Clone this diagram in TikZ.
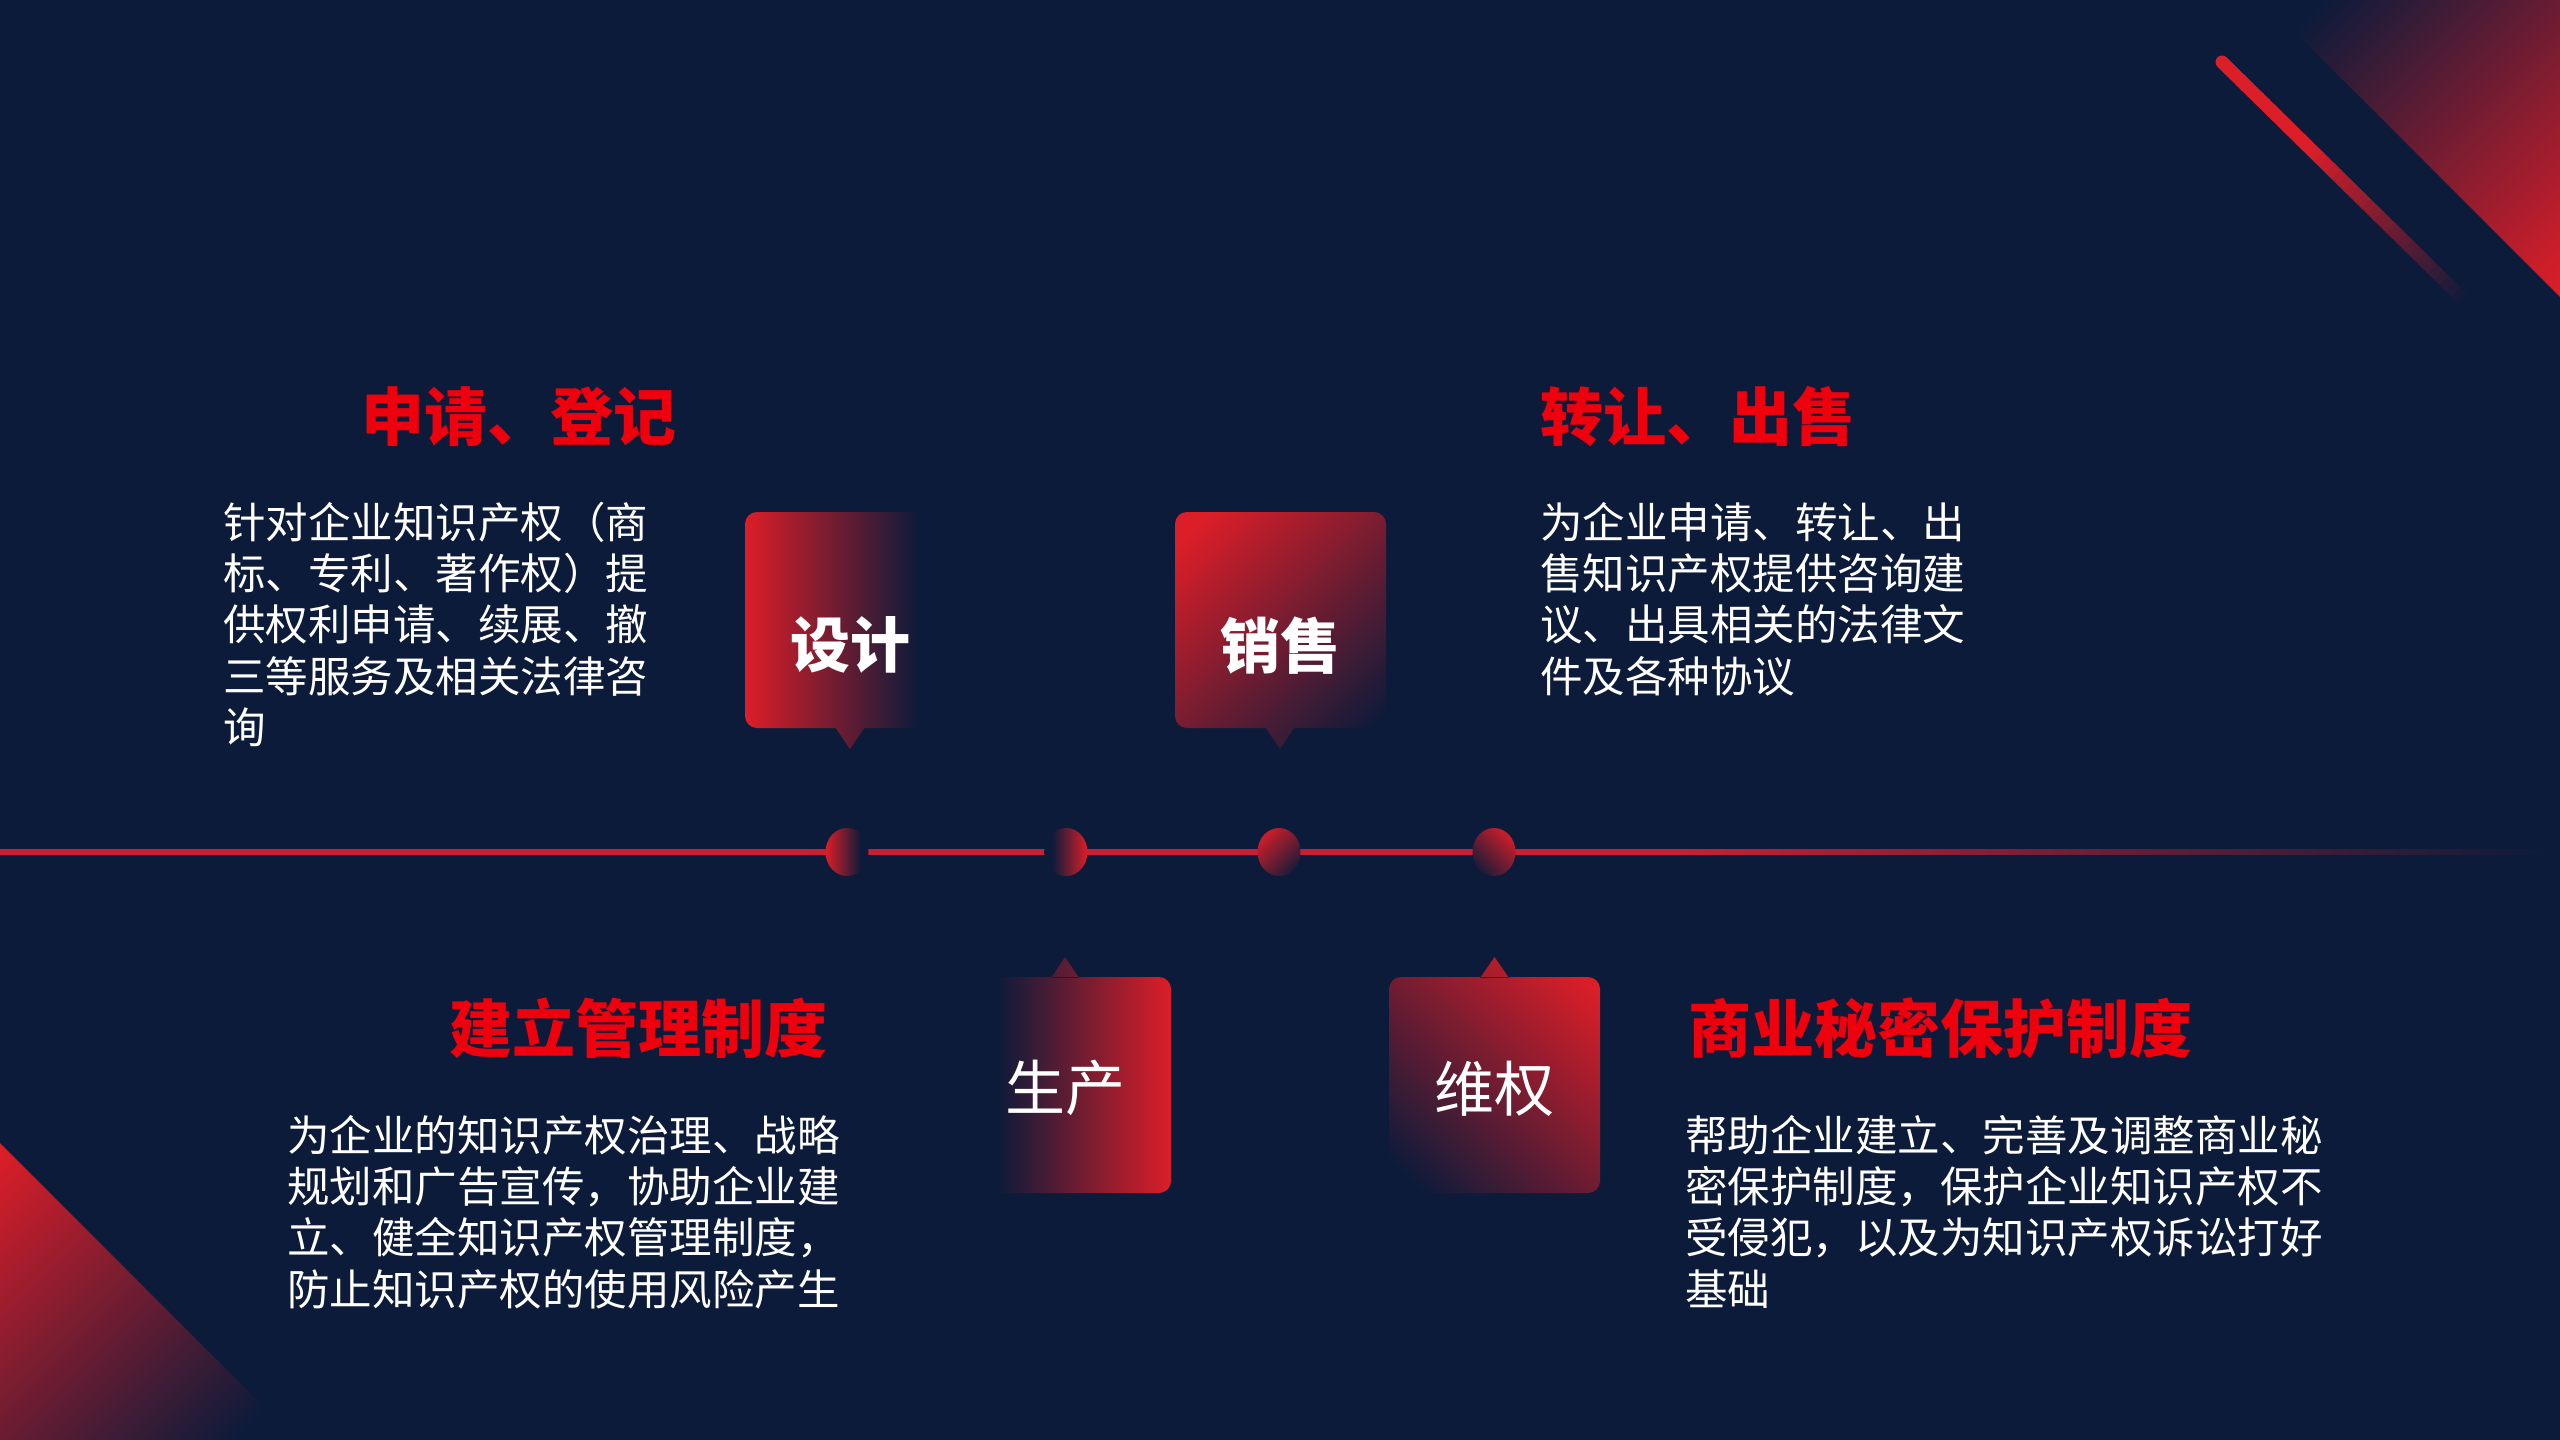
\documentclass[tikz,border=0pt]{standalone}
\usepackage{fontspec}
\setmainfont{Noto Sans CJK SC}
\usetikzlibrary{calc,shapes.geometric}
\definecolor{bg}{RGB}{13,27,58}
\definecolor{hot}{RGB}{220,30,40}
\definecolor{linered}{RGB}{200,32,50}
\definecolor{titlered}{RGB}{238,0,12}
\pgfdeclarehorizontalshading{fadeR}{100bp}{color(0bp)=(hot); color(25bp)=(hot); color(66bp)=(bg); color(100bp)=(bg)}
\pgfdeclarehorizontalshading{fadeD}{100bp}{color(0bp)=(hot); color(20bp)=(hot); color(80bp)=(bg); color(100bp)=(bg)}
\pgfdeclarehorizontalshading{triTR}{100bp}{color(0bp)=(bg); color(22bp)=(bg); color(85bp)=(hot); color(100bp)=(hot)}
\pgfdeclarehorizontalshading{triBL}{100bp}{color(0bp)=(hot); color(15bp)=(hot); color(78bp)=(bg); color(100bp)=(bg)}
\pgfdeclarehorizontalshading{lineF}{100bp}{color(0bp)=(linered); color(58bp)=(linered); color(75bp)=(bg); color(100bp)=(bg)}
\tikzset{
  title/.style={anchor=base west, text=titlered, font=\fontsize{63}{70}\selectfont\bfseries, inner sep=0pt},
  body/.style={anchor=base west, text=white, font=\fontsize{42.5}{50}\selectfont, inner sep=0pt},
  lbl/.style={anchor=base, text=white, font=\fontsize{60}{66}\selectfont, inner sep=0pt},
  lblb/.style={lbl, font=\fontsize{60}{66}\selectfont\bfseries},
  dotnode/.style={ellipse, minimum width=43pt, minimum height=48pt, inner sep=0pt, shade}
}
\begin{document}
\begin{tikzpicture}[x=1pt,y=-1pt]
\useasboundingbox (0,0) rectangle (2560,1440);
\fill[bg] (0,0) rectangle (2560,1440);
% corner decorations
\shade[shading=triTR, shading angle=-45] (2263,0) -- (2560,0) -- (2560,297) -- cycle;
\shade[shading=triBL, shading angle=-45] (0,1143) -- (297,1440) -- (0,1440) -- cycle;
\coordinate (sA) at (2222,62);
\coordinate (sB) at (2462,298);
\fill[hot] (sA) circle[radius=6.5];
\foreach \i in {0,...,39}{
  \pgfmathsetmacro\ta{\i/40}
  \pgfmathsetmacro\tb{min(1,(\i+1.2)/40)}
  \pgfmathtruncatemacro\pc{\i<14 ? 100 : 100*(1-(\i-14)/26)}
  \draw[line width=13pt, hot!\pc!bg] ($(sA)!\ta!(sB)$) -- ($(sA)!\tb!(sB)$);
}
% timeline
\shade[shading=lineF] (0,849.5) rectangle (2545,854.5);
\node[dotnode, shading=fadeR] (d1) at (847,852) {};
\node[dotnode, shading=fadeR, shading angle=180] (d2) at (1066,852) {};
\node[dotnode, shading=fadeD, shading angle=-45] (d3) at (1279,852) {};
\node[dotnode, shading=fadeD, shading angle=-135] (d4) at (1494,852) {};
% boxes
\shade[shading=fadeR, rounded corners=12pt] (745,512) rectangle (956,728) [sharp corners] (835,727) -- (850,749) -- (865,727) -- cycle;
\shade[shading=fadeD, shading angle=-45, rounded corners=12pt] (1175,512) rectangle (1386,728) [sharp corners] (1265,727) -- (1280,749) -- (1295,727) -- cycle;
\shade[shading=fadeR, shading angle=180, rounded corners=12pt] (960,977) rectangle (1171,1193) [sharp corners] (1051,978) -- (1065,957) -- (1079,978) -- cycle;
\shade[shading=fadeD, shading angle=-135, rounded corners=12pt] (1389,977) rectangle (1600,1193) [sharp corners] (1480,978) -- (1494.5,957) -- (1509,978) -- cycle;
\node[lblb] (l1) at (850,667) {设计};
\node[lblb] (l2) at (1280,668) {销售};
\node[lbl] (l3) at (1065,1110) {生产};
\node[lbl] (l4) at (1494,1111) {维权};
% titles
\node[title] (t1) at (361,440) {申请、登记};
\node[title] (t2) at (1540,440) {转让、出售};
\node[title] (t3) at (449,1052) {建立管理制度};
\node[title] (t4) at (1688,1052) {商业秘密保护制度};
% body texts
\node[body] (a1) at (223,538) {针对企业知识产权（商};
\node[body] (a2) at (223,589) {标、专利、著作权）提};
\node[body] (a3) at (223,640) {供权利申请、续展、撤};
\node[body] (a4) at (223,692) {三等服务及相关法律咨};
\node[body] (a5) at (223,743) {询};
\node[body] (b1) at (1540,538) {为企业申请、转让、出};
\node[body] (b2) at (1540,589) {售知识产权提供咨询建};
\node[body] (b3) at (1540,640) {议、出具相关的法律文};
\node[body] (b4) at (1540,692) {件及各种协议};
\node[body] (c1) at (287,1151) {为企业的知识产权治理、战略};
\node[body] (c2) at (287,1202) {规划和广告宣传，协助企业建};
\node[body] (c3) at (287,1253) {立、健全知识产权管理制度，};
\node[body] (c4) at (287,1305) {防止知识产权的使用风险产生};
\node[body] (e1) at (1685,1151) {帮助企业建立、完善及调整商业秘};
\node[body] (e2) at (1685,1202) {密保护制度，保护企业知识产权不};
\node[body] (e3) at (1685,1253) {受侵犯，以及为知识产权诉讼打好};
\node[body] (e4) at (1685,1305) {基础};
\end{tikzpicture}
\end{document}
